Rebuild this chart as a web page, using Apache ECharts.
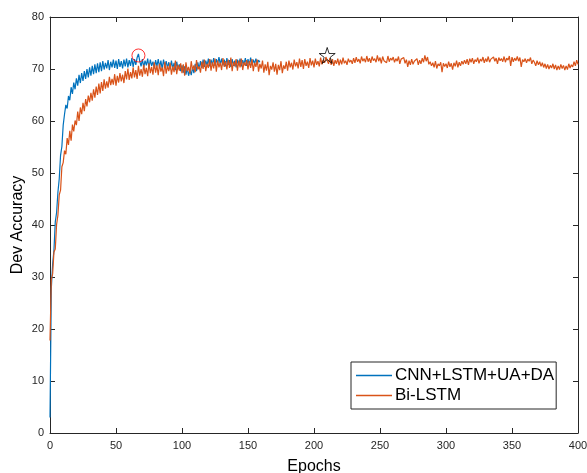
<!DOCTYPE html>
<html>
<head>
<meta charset="utf-8">
<script src="https://cdn.jsdelivr.net/npm/echarts@6/dist/echarts.min.js"></script>
<style>
  html, body { margin: 0; padding: 0; background: #fff; }
  #chart { width: 587px; height: 473px; }
</style>
</head>
<body>
<div id="chart"></div>
<script>
// dev accuracy per epoch
const cnnAcc = [
  3.0, 27.8, 32.5, 35.2, 40.6, 42.4, 46.3, 48.9, 53.4, 55.1,
  59.2, 61.3, 63.1, 62.4, 64.8, 64.0, 66.5, 65.2, 67.4, 66.1,
  68.2, 66.8, 68.9, 67.3, 69.2, 67.7, 69.6, 68.1, 70.0, 68.4,
  70.3, 68.7, 70.6, 69.0, 70.9, 69.2, 71.1, 69.4, 71.3, 69.6,
  71.5, 69.9, 71.2, 70.1, 71.7, 69.8, 71.4, 70.3, 71.8, 70.2,
  71.6, 70.0, 71.9, 70.4, 71.5, 70.1, 71.8, 70.5, 72.0, 70.3,
  71.7, 70.6, 72.1, 70.4, 71.9, 70.8, 72.2, 72.9, 71.5, 70.5,
  71.9, 70.3, 71.6, 70.7, 72.0, 70.2, 71.8, 70.6, 71.4, 70.1,
  71.7, 70.5, 71.9, 70.3, 71.6, 70.0, 71.8, 70.4, 71.5, 70.2,
  71.3, 69.9, 71.6, 70.1, 71.2, 69.8, 71.4, 70.0, 70.9, 69.6,
  70.7, 69.3, 70.5, 68.9, 70.2, 68.7, 69.9, 68.8, 70.3, 69.2,
  71.0, 69.6, 71.3, 70.0, 71.5, 70.2, 71.8, 70.4, 71.6, 70.7,
  72.0, 70.5, 71.8, 70.8, 72.1, 70.6, 71.9, 71.0, 72.3, 70.9,
  72.0, 70.7, 71.8, 70.5, 72.1, 70.8, 71.7, 70.4, 71.9, 70.6,
  71.6, 70.3, 71.8, 70.7, 72.0, 70.5, 71.7, 70.9, 72.1, 70.6,
  71.9, 70.8, 72.2, 70.7, 71.8, 71.0, 72.0, 70.9, 71.7, 71.3
];

const biLstmAcc = [
  17.8, 29.5, 30.6, 34.8, 35.4, 40.1, 41.9, 45.8, 46.7, 51.2,
  52.0, 54.3, 53.6, 56.7, 55.4, 58.1, 56.2, 59.3, 58.0, 60.1,
  59.2, 61.8, 60.0, 62.6, 61.3, 63.5, 61.9, 64.2, 62.8, 64.9,
  63.6, 65.4, 63.9, 66.1, 64.5, 66.6, 65.0, 67.2, 65.3, 67.5,
  65.8, 68.0, 66.2, 67.6, 66.4, 68.5, 66.9, 68.1, 67.0, 69.0,
  66.8, 68.7, 67.4, 69.2, 67.6, 68.9, 67.3, 69.6, 68.0, 70.1,
  67.9, 69.4, 68.2, 70.3, 68.4, 69.8, 68.1, 70.6, 68.7, 70.0,
  68.5, 70.8, 69.0, 70.2, 68.6, 71.1, 69.2, 70.4, 68.9, 71.3,
  69.3, 70.7, 68.8, 71.0, 69.5, 70.3, 68.6, 71.4, 69.1, 70.6,
  69.6, 71.2, 68.9, 70.5, 69.4, 71.6, 69.0, 70.8, 69.7, 71.1,
  69.2, 70.9, 68.7, 71.3, 69.6, 70.4, 69.1, 71.5, 69.8, 70.7,
  69.4, 71.7, 69.9, 70.5, 69.3, 71.4, 70.0, 71.8, 69.6, 71.0,
  70.2, 71.9, 69.7, 71.3, 70.1, 72.0, 69.5, 71.6, 70.3, 71.2,
  69.8, 72.1, 70.4, 71.5, 69.9, 71.8, 70.2, 72.2, 69.6, 71.4,
  70.5, 71.9, 69.7, 71.6, 70.3, 72.0, 69.8, 71.3, 70.6, 71.7,
  69.9, 71.5, 70.2, 71.9, 69.6, 71.2, 70.4, 71.8, 69.5, 71.0,
  70.1, 71.6, 69.3, 70.9, 69.7, 71.4, 68.8, 70.6, 69.9, 71.3,
  69.5, 71.0, 68.9, 70.8, 69.8, 71.5, 69.2, 70.7, 70.0, 71.4,
  69.7, 71.6, 70.3, 71.2, 69.9, 71.8, 70.5, 71.3, 70.1, 72.0,
  70.4, 71.7, 70.0, 71.9, 70.6, 71.4, 70.2, 72.1, 70.7, 71.6,
  70.3, 72.0, 70.8, 71.5, 70.5, 72.2, 70.9, 71.7, 71.2, 72.3,
  72.6, 71.0, 72.1, 70.8, 71.9, 70.6, 71.7, 71.0, 72.0, 70.7,
  71.8, 70.9, 72.2, 71.1, 71.6, 70.8, 72.0, 71.3, 71.7, 71.0,
  72.1, 71.2, 72.3, 71.4, 71.9, 71.1, 72.4, 71.5, 72.0, 71.3,
  72.5, 71.4, 72.1, 71.2, 72.4, 71.6, 72.0, 71.3, 72.6, 71.5,
  72.2, 71.1, 72.4, 71.6, 71.9, 71.2, 72.5, 71.4, 72.1, 71.7,
  72.3, 71.3, 72.0, 71.5, 72.4, 71.0, 71.9, 71.6, 72.2, 71.1,
  71.8, 70.4, 71.6, 70.8, 71.9, 70.9, 71.5, 71.2, 72.0, 70.8,
  71.7, 71.0, 72.1, 71.3, 72.6, 71.5, 72.3, 70.9, 71.4, 70.6,
  71.2, 70.3, 71.5, 70.1, 71.0, 70.6, 71.3, 69.4, 71.1, 70.5,
  71.0, 70.2, 71.4, 70.4, 71.1, 69.9, 71.2, 70.5, 71.6, 70.3,
  71.3, 70.6, 71.5, 70.9, 71.7, 71.0, 71.9, 70.8, 72.0, 71.3,
  72.1, 71.0, 71.8, 71.4, 72.2, 71.1, 71.9, 71.5, 72.3, 71.2,
  72.0, 71.4, 72.4, 71.3, 71.9, 71.6, 72.3, 71.5, 72.1, 71.0,
  72.2, 71.6, 72.0, 71.4, 72.4, 71.3, 72.1, 71.7, 72.5, 70.6,
  72.3, 71.4, 72.1, 71.6, 72.4, 71.5, 72.2, 70.4, 71.8, 71.4,
  72.0, 71.2, 71.9, 71.5, 72.2, 71.0, 71.7, 71.3, 70.6, 71.6,
  70.8, 71.4, 70.5, 71.2, 70.3, 71.0, 70.1, 70.9, 70.0, 70.7,
  70.2, 71.0, 70.0, 70.8, 69.8, 70.6, 69.9, 70.9, 70.1, 70.7,
  69.8, 70.6, 69.9, 71.0, 70.2, 70.8, 70.4, 71.4, 70.6, 71.7,
  70.9
];

// best-epoch markers [epoch, accuracy]
const cnnBest = [67, 72.6];
const biLstmBest = [210, 72.6];

const xTicks = [0, 50, 100, 150, 200, 250, 300, 350, 400];
const yTicks = [0, 10, 20, 30, 40, 50, 60, 70, 80];

const axisColor = '#262626';
const font = '"Liberation Sans", Arial, sans-serif';
const starPath = 'path://M50,2 L61,36 L97,36 L68,57 L79,92 L50,70 L21,92 L32,57 L3,36 L39,36 Z';

const toPairs = arr => arr.map((v, i) => [i, v]);

const chart = echarts.init(document.getElementById('chart'));

const baseX = {
  type: 'value',
  min: xTicks[0],
  max: xTicks[xTicks.length - 1],
  interval: 50,
  axisLine: { show: true, onZero: false, lineStyle: { color: axisColor, width: 1 } },
  axisTick: { show: true, inside: true, length: 5, lineStyle: { color: axisColor } },
  splitLine: { show: false }
};
const baseY = {
  type: 'value',
  min: yTicks[0],
  max: yTicks[yTicks.length - 1],
  interval: 10,
  axisLine: { show: true, onZero: false, lineStyle: { color: axisColor, width: 1 } },
  axisTick: { show: true, inside: true, length: 5, lineStyle: { color: axisColor } },
  splitLine: { show: false }
};

chart.setOption({
  animation: false,
  backgroundColor: '#fff',
  textStyle: { fontFamily: font },
  grid: { left: 50, right: 9, top: 17, bottom: 40, containLabel: false, outerBoundsMode: 'none' },
  legend: {
    data: ['CNN+LSTM+UA+DA', 'Bi-LSTM'],
    orient: 'vertical',
    left: 351,
    top: 362,
    padding: [4, 2, 4, 5],
    itemGap: 1,
    itemWidth: 36,
    itemHeight: 1.5,
    icon: 'rect',
    borderColor: axisColor,
    borderWidth: 1,
    backgroundColor: '#fff',
    textStyle: { fontSize: 17, color: '#000', fontFamily: font, lineHeight: 19, padding: [0, 0, 0, -2] }
  },
  xAxis: [
    Object.assign({}, baseX, {
      position: 'bottom',
      name: 'Epochs',
      nameLocation: 'middle',
      nameGap: 26,
      nameMoveOverlap: false,
      nameTextStyle: { fontSize: 16, color: '#000', fontFamily: font },
      axisLabel: { fontSize: 11, color: axisColor, margin: 7, fontFamily: font }
    }),
    Object.assign({}, baseX, { position: 'top', axisLabel: { show: false } })
  ],
  yAxis: [
    Object.assign({}, baseY, {
      position: 'left',
      name: 'Dev Accuracy',
      nameLocation: 'middle',
      nameGap: 24,
      nameMoveOverlap: false,
      nameTextStyle: { fontSize: 16, color: '#000', fontFamily: font },
      axisLabel: { fontSize: 11, color: axisColor, margin: 6, fontFamily: font }
    }),
    Object.assign({}, baseY, { position: 'right', axisLabel: { show: false } })
  ],
  series: [
    {
      name: 'CNN+LSTM+UA+DA',
      type: 'line',
      data: toPairs(cnnAcc),
      showSymbol: false,
      symbol: 'none',
      color: '#0072BD',
      lineStyle: { width: 1.2, color: '#0072BD' }
    },
    {
      name: 'Bi-LSTM',
      type: 'line',
      data: toPairs(biLstmAcc),
      showSymbol: false,
      symbol: 'none',
      color: '#D95319',
      lineStyle: { width: 1.2, color: '#D95319' }
    },
    {
      name: 'cnnBest',
      type: 'scatter',
      data: [cnnBest],
      symbol: 'circle',
      symbolSize: 13,
      z: 5,
      itemStyle: { color: 'rgba(0,0,0,0)', borderColor: '#ff0000', borderWidth: 1 }
    },
    {
      name: 'biLstmBest',
      type: 'scatter',
      data: [biLstmBest],
      symbol: starPath,
      symbolSize: 16,
      z: 5,
      itemStyle: { color: 'rgba(0,0,0,0)', borderColor: '#000', borderWidth: 1 }
    }
  ]
});
</script>
</body>
</html>
